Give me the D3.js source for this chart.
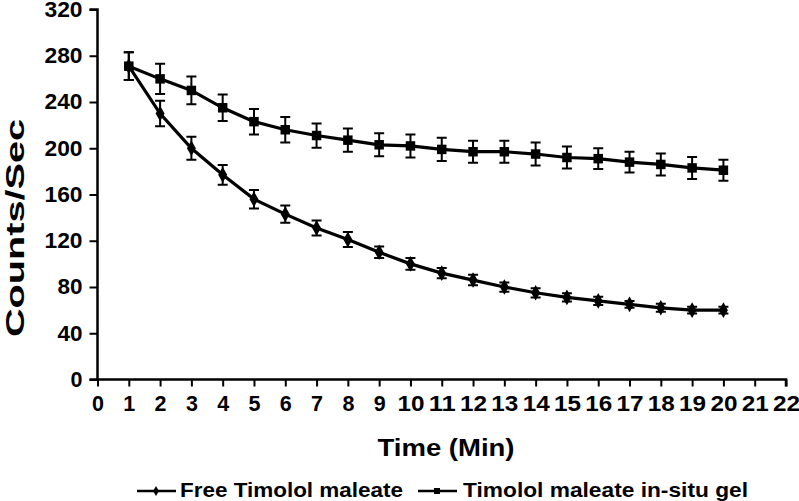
<!DOCTYPE html>
<html>
<head>
<meta charset="utf-8">
<script src="https://cdn.jsdelivr.net/npm/d3@7/dist/d3.min.js"></script>
<style>
  html, body { margin: 0; padding: 0; background: #fff; }
  svg { display: block; }
  text { font-family: "Liberation Sans", Arial, sans-serif; font-weight: bold; fill: #000; }
</style>
</head>
<body>
<svg id="chart" width="799" height="501"></svg>
<script>
// ---- Data ----
const timeMin = [1,2,3,4,5,6,7,8,9,10,11,12,13,14,15,16,17,18,19,20];
const freeTimolol = [271,230,200,177,156,143,131,121,110,100,92,86,80,75,71,68,65,62,60,60];
const freeTimololErr = [12,11,10,8.5,8,7.5,6.5,6.5,5,5,4.5,4.5,4,4,3.5,3.5,3,3.5,3,3];
const gelTimolol = [271,260,250,235,223,216,211,207,203,202,199,197,197,195,192,191,188,186,183,181];
const gelTimololErr = [12,13,12,11.5,11,11,10.5,10,10,10,10,9.5,9.5,10,9.5,9,9,9.5,9.5,9];
const xTicks = d3.range(0, 23, 1);
const yTicks = [0,40,80,120,160,200,240,280,320];
const seriesNames = ["Free Timolol maleate", "Timolol maleate in-situ gel"];

// ---- Layout ----
const svg = d3.select("#chart");
const x = d3.scaleLinear().domain([0, 22]).range([97.5, 786]);
const y = d3.scaleLinear().domain([0, 320]).range([379.5, 9.5]);

// Axes
const yAxis = d3.axisLeft(y).tickValues(yTicks).tickSize(8).tickPadding(7);
const xAxis = d3.axisBottom(x).tickValues(xTicks).tickSize(7).tickPadding(9);

const gy = svg.append("g").attr("transform", `translate(${x(0)},0)`).call(yAxis);
const gx = svg.append("g").attr("transform", `translate(0,${y(0)})`).call(xAxis);
[gx, gy].forEach(g => {
  g.select(".domain").attr("stroke", "#000").attr("stroke-width", 2.5);
  g.selectAll(".tick line").attr("stroke", "#000").attr("stroke-width", 2);
  g.selectAll(".tick text").style("font-size", "21.5px").style("font-weight", "bold")
    .style("font-family", "'Liberation Sans', Arial, sans-serif").attr("fill", "#000");
});
gx.select(".domain").attr("d", `M${x(0) - 8},0H${x(22)}V7`);
gy.select(".domain").attr("d", `M-8,${y(320)}H0V${y(0)}`);
gy.selectAll(".tick text").attr("textLength", d => d >= 100 ? 38 : (d >= 10 ? 25 : null))
  .attr("lengthAdjust", "spacingAndGlyphs");
gx.selectAll(".tick text").attr("dy", "0.71em").attr("textLength", d => d >= 10 ? 27 : null)
  .attr("lengthAdjust", "spacingAndGlyphs");

// Axis titles
svg.append("text")
  .attr("x", 446).attr("y", 456)
  .attr("text-anchor", "middle")
  .style("font-size", "23px")
  .attr("textLength", 137).attr("lengthAdjust", "spacingAndGlyphs")
  .text("Time (Min)");

svg.append("text")
  .attr("transform", `translate(24,228) rotate(-90)`)
  .attr("text-anchor", "middle")
  .style("font-size", "25px")
  .attr("textLength", 218).attr("lengthAdjust", "spacingAndGlyphs")
  .text("Counts/Sec");

// Series data
const free = timeMin.map((t, i) => ({ t, v: freeTimolol[i], e: freeTimololErr[i] }));
const gel = timeMin.map((t, i) => ({ t, v: gelTimolol[i], e: gelTimololErr[i] }));

function errorBars(data) {
  const g = svg.append("g").attr("stroke", "#000").attr("stroke-width", 2).attr("fill", "none");
  g.selectAll("path").data(data).enter().append("path")
    .attr("d", d => {
      const cx = x(d.t), y1 = y(d.v + d.e), y2 = y(d.v - d.e);
      return `M${cx - 5},${y1}H${cx + 5}M${cx},${y1}V${y2}M${cx - 5},${y2}H${cx + 5}`;
    });
}
errorBars(gel);
errorBars(free);

const line = d3.line().x(d => x(d.t)).y(d => y(d.v));
[gel, free].forEach(data => {
  svg.append("path").datum(data).attr("d", line)
    .attr("fill", "none").attr("stroke", "#000").attr("stroke-width", 3.2);
});

const sq = d3.symbol().type(d3.symbolSquare).size(90);
const dm = d3.symbol().type(d3.symbolDiamond).size(70);
svg.append("g").selectAll("path").data(gel).enter().append("path")
  .attr("d", sq).attr("transform", d => `translate(${x(d.t)},${y(d.v)})`).attr("fill", "#000");
svg.append("g").selectAll("path").data(free).enter().append("path")
  .attr("d", dm).attr("transform", d => `translate(${x(d.t)},${y(d.v)})`).attr("fill", "#000");

// Legend
const legendItems = [
  { name: seriesNames[0], sym: d3.symbol().type(d3.symbolDiamond).size(30), x0: 137, tx: 180, len: 223 },
  { name: seriesNames[1], sym: d3.symbol().type(d3.symbolSquare).size(36), x0: 418, tx: 463, len: 285 }
];
const lg = svg.append("g");
legendItems.forEach(it => {
  lg.append("line").attr("x1", it.x0).attr("x2", it.x0 + 39).attr("y1", 491).attr("y2", 491)
    .attr("stroke", "#000").attr("stroke-width", 2.5);
  lg.append("path").attr("d", it.sym).attr("transform", `translate(${it.x0 + 19},491)`).attr("fill", "#000");
  lg.append("text").attr("x", it.tx).attr("y", 497).style("font-size", "21px")
    .attr("textLength", it.len).attr("lengthAdjust", "spacingAndGlyphs").text(it.name);
});
</script>
</body>
</html>
